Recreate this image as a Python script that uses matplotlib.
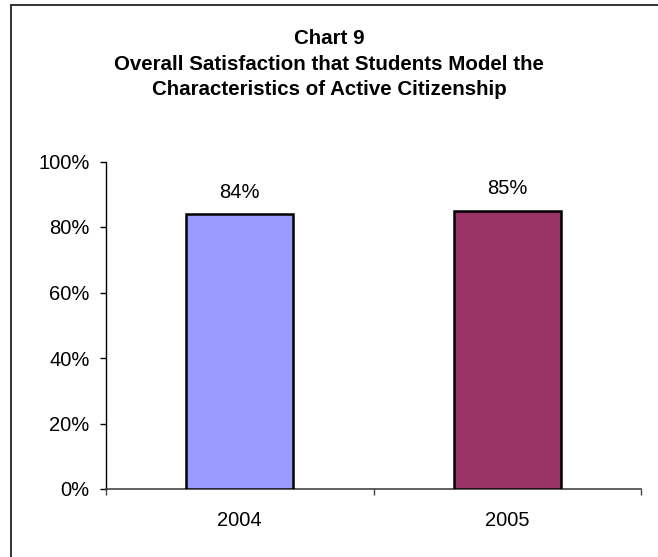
import matplotlib
matplotlib.use("Agg")
import matplotlib.pyplot as plt
from matplotlib.patches import Rectangle
from matplotlib.ticker import FixedLocator

plt.rcParams['font.family'] = ['Liberation Sans', 'DejaVu Sans']

years = ["2004", "2005"]
satisfaction = [84, 85]
bar_colors = ["#9999FF", "#993366"]
y_ticks = [0, 20, 40, 60, 80, 100]
title_lines = ["Chart 9",
               "Overall Satisfaction that Students Model the",
               "Characteristics of Active Citizenship"]

W, H = 658, 557
fig = plt.figure(figsize=(W / 100, H / 100), dpi=100)

# outer chart frame (left and top edges fall inside the canvas)
fig.patches.append(Rectangle((11 / W, -0.1), 1.2, (H - 5) / H + 0.1,
                             transform=fig.transFigure, fill=False,
                             edgecolor="#222222", linewidth=1.3))

ax = fig.add_axes([106 / W, (H - 489) / H, 535 / W, 327.5 / H])
x = range(len(years))
ax.bar(x, satisfaction, width=0.4, color=bar_colors, edgecolor="black",
       linewidth=1.8, zorder=3)
for xi, v in zip(x, satisfaction):
    ax.text(xi, v + 5, f"{v}%", ha="center", va="baseline", fontsize=14.5)

ax.set_xlim(-0.5, len(years) - 0.5)
ax.set_ylim(0, 100)
ax.set_yticks(y_ticks)
ax.set_yticklabels([f"{t}%" for t in y_ticks], fontsize=14.5)
ax.set_xticks(list(x))
ax.set_xticklabels(years, fontsize=14.5)
ax.tick_params(axis="x", length=0, pad=15.5)
ax.xaxis.set_minor_locator(FixedLocator([-0.5, 0.5, 1.5]))
ax.tick_params(axis="x", which="minor", length=4.5, width=1, color="#444444")
ax.tick_params(axis="y", length=4.5, width=1, pad=7.2)

for s in ("top", "right"):
    ax.spines[s].set_visible(False)
ax.spines["left"].set_linewidth(1)
ax.spines["bottom"].set_linewidth(1.2)
ax.spines["bottom"].set_color("#444444")

# chart title, one line per text so baselines can be placed precisely
for line, base in zip(title_lines, [43.5, 69.5, 95]):
    fig.text(329 / W, 1 - base / H, line, ha="center", va="baseline",
             fontsize=14.8, fontweight="bold")

fig.savefig("out.png", dpi=100)
